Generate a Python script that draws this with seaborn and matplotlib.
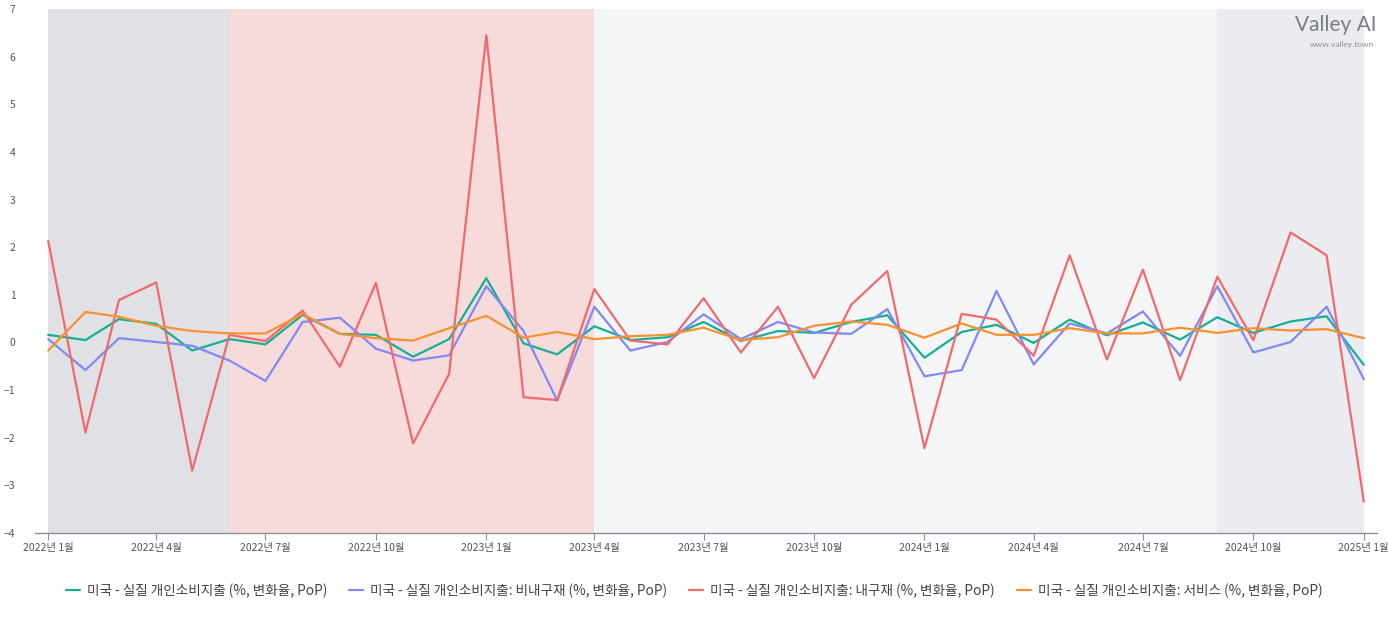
import pandas as pd
import seaborn as sns
import matplotlib.pyplot as plt

# 월별 데이터 (2022년 1월 ~ 2025년 1월)
months = pd.date_range('2022-01-01', '2025-01-01', freq='MS')

total_pce = [0.16, 0.05, 0.49, 0.39, -0.17, 0.07, -0.04, 0.58, 0.18, 0.16, -0.30, 0.07,
             1.35, -0.02, -0.25, 0.34, 0.05, 0.11, 0.43, 0.03, 0.24, 0.20, 0.43, 0.57,
             -0.32, 0.22, 0.37, -0.01, 0.48, 0.15, 0.42, 0.06, 0.53, 0.20, 0.44, 0.55,
             -0.47]
nondurable = [0.07, -0.58, 0.09, 0.01, -0.07, -0.38, -0.81, 0.43, 0.52, -0.13, -0.38, -0.27,
              1.18, 0.24, -1.22, 0.75, -0.17, 0.01, 0.59, 0.07, 0.43, 0.21, 0.18, 0.70,
              -0.71, -0.58, 1.08, -0.46, 0.40, 0.19, 0.65, -0.28, 1.18, -0.21, 0.01, 0.75,
              -0.77]
durable = [2.13, -1.89, 0.89, 1.26, -2.69, 0.16, 0.03, 0.67, -0.51, 1.25, -2.12, -0.66,
           6.45, -1.15, -1.21, 1.12, 0.04, -0.04, 0.93, -0.21, 0.75, -0.75, 0.79, 1.50,
           -2.22, 0.60, 0.48, -0.28, 1.83, -0.36, 1.53, -0.79, 1.38, 0.05, 2.31, 1.83,
           -3.34]
services = [-0.17, 0.64, 0.54, 0.35, 0.24, 0.19, 0.19, 0.60, 0.18, 0.09, 0.04, 0.30,
            0.56, 0.10, 0.22, 0.07, 0.13, 0.16, 0.31, 0.05, 0.11, 0.35, 0.44, 0.37,
            0.10, 0.40, 0.16, 0.16, 0.30, 0.19, 0.19, 0.31, 0.20, 0.30, 0.25, 0.28,
            0.09]

series_names = ['미국 - 실질 개인소비지출 (%, 변화율, PoP)',
                '미국 - 실질 개인소비지출: 비내구재 (%, 변화율, PoP)',
                '미국 - 실질 개인소비지출: 내구재 (%, 변화율, PoP)',
                '미국 - 실질 개인소비지출: 서비스 (%, 변화율, PoP)']
colors = ['#14b095', '#8189f2', '#f06a6d', '#f8912f']

# 배경 구간
regions = [('2022-01-01', '2022-06-01', '#dfe1e5'),
           ('2022-06-01', '2023-04-01', '#f7dbdb'),
           ('2023-04-01', '2024-09-01', '#f4f5f7'),
           ('2024-09-01', '2025-01-01', '#ebecf0')]

frames = []
for name, vals in zip(series_names, [total_pce, nondurable, durable, services]):
    frames.append(pd.DataFrame({'date': months, 'value': vals, 'series': name}))
df = pd.concat(frames)

sns.set_style('white')
plt.rcParams['font.family'] = ['Noto Sans CJK KR', 'DejaVu Sans']

fig = plt.figure(figsize=(13.88, 6.18), dpi=100)
ax = fig.add_axes([35 / 1388, 85 / 618, 1342 / 1388, 524 / 618])

for start, end, c in regions:
    ax.axvspan(pd.Timestamp(start), pd.Timestamp(end), color=c, lw=0, zorder=0)

sns.lineplot(data=df, x='date', y='value', hue='series', palette=colors,
             linewidth=1.6, ax=ax, legend=True)

ax.set_ylim(-4, 7)
ax.set_yticks(range(-4, 8))
ax.set_xlim(pd.Timestamp('2022-01-01') - pd.Timedelta(days=11),
            pd.Timestamp('2025-01-01') + pd.Timedelta(days=11))

ticks = pd.date_range('2022-01-01', '2025-01-01', freq='3MS')
ax.set_xticks(ticks)
ax.set_xticklabels([f'{d.year}년 {d.month}월' for d in ticks])
ax.tick_params(axis='x', length=5, width=0.8, color='#8a8f99', labelsize=7.5,
               labelcolor='#555555', pad=2, bottom=True)
ax.tick_params(axis='y', length=0, labelsize=7.5, labelcolor='#555555', pad=14)

for s in ['top', 'right', 'left']:
    ax.spines[s].set_visible(False)
ax.spines['bottom'].set_color('#8a8f99')
ax.spines['bottom'].set_linewidth(1)

ax.set_xlabel('')
ax.set_ylabel('')

# 범례는 그림 가운데 아래
handles, labels = ax.get_legend_handles_labels()
ax.get_legend().remove()
fig.legend(handles, labels, loc='upper center', bbox_to_anchor=(0.5, 85 / 618 - 38 / 618),
           ncol=4, frameon=False, fontsize=9.8, handlelength=1.05, columnspacing=1.6,
           handletextpad=0.5, labelcolor='#444444')

# 워터마크
fig.text(0.992, 0.96, 'Valley AI', ha='right', va='center', fontsize=15,
         color='#7a7e85', family=['Lato', 'DejaVu Sans'])
fig.text(0.99, 0.928, 'www.valley.town', ha='right', va='center', fontsize=6,
         color='#8a8e95', family=['Lato', 'DejaVu Sans'])

plt.savefig('out.png', dpi=100)
